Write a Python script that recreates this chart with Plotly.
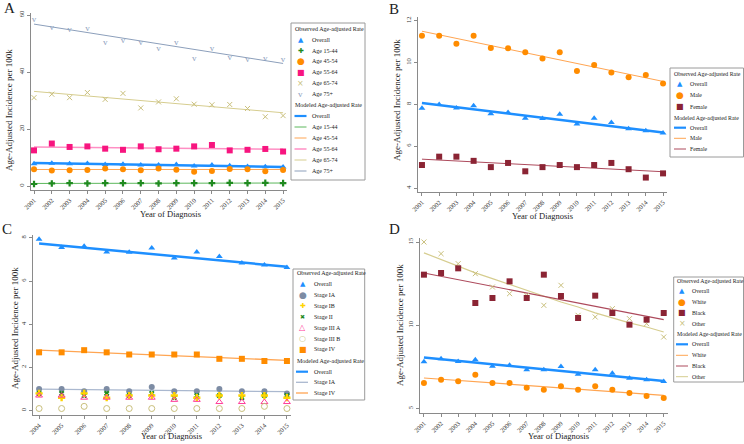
import plotly.graph_objects as go

# ---------------- data ----------------
years = [2001, 2002, 2003, 2004, 2005, 2006, 2007, 2008, 2009, 2010, 2011, 2012, 2013, 2014, 2015]
years_c = [2004, 2005, 2006, 2007, 2008, 2009, 2010, 2011, 2012, 2013, 2014, 2015]
model_years = [2001, 2015]
model_years_c = [2004, 2015]

overall = [7.82, 8.00, 7.83, 7.93, 7.55, 7.61, 7.34, 7.33, 7.53, 7.06, 7.34, 7.13, 6.83, 6.74, 6.63]
overall_model = [8.07, 6.66]

age_15_44 = [0.7, 0.9, 1.0, 0.9, 1.0, 1.0, 1.0, 0.9, 1.0, 1.0, 1.0, 1.1, 1.0, 1.1, 1.0]
age_45_54 = [5.9, 5.4, 5.5, 5.6, 6.1, 5.9, 5.5, 6.1, 5.7, 5.0, 5.3, 6.0, 5.9, 5.2, 5.6]
age_55_64 = [12.5, 14.9, 13.7, 13.9, 13.1, 12.7, 13.9, 12.9, 13.1, 13.9, 14.4, 12.5, 12.7, 13.0, 12.1]
age_65_74 = [31.0, 32.2, 31.0, 32.8, 30.4, 32.5, 27.4, 29.5, 30.6, 28.7, 28.5, 28.6, 27.2, 24.3, 24.7]
age_75p = [58.3, 55.7, 55.0, 55.3, 50.3, 51.0, 50.3, 48.0, 50.3, 44.8, 48.0, 45.0, 44.2, 44.8, 44.4]
age_15_44_model = [0.9, 1.05]
age_45_54_model = [5.8, 5.8]
age_55_64_model = [13.7, 12.9]
age_65_74_model = [33.2, 25.7]
age_75p_model = [56.8, 43.0]

male = [11.28, 11.28, 10.9, 11.28, 10.7, 10.68, 10.5, 10.2, 10.5, 9.6, 9.89, 9.52, 9.3, 9.41, 9.0]
female = [5.1, 5.5, 5.5, 5.3, 5.0, 5.2, 4.8, 5.0, 5.1, 5.0, 5.1, 5.2, 4.9, 4.5, 4.7]
male_model = [11.5, 9.1]
female_model = [5.38, 4.78]

overall_c = [7.93, 7.55, 7.61, 7.34, 7.33, 7.53, 7.06, 7.34, 7.13, 6.83, 6.74, 6.63]
overall_c_model = [7.74, 6.66]
stage_ia = [1.0, 1.0, 0.9, 1.0, 0.9, 1.1, 0.9, 0.9, 1.0, 0.9, 0.9, 0.8]
stage_ib = [0.8, 0.6, 0.8, 0.6, 0.7, 0.7, 0.7, 0.6, 0.7, 0.7, 0.7, 0.6]
stage_ii = [0.8, 0.8, 0.7, 0.8, 0.7, 0.8, 0.6, 0.7, 0.7, 0.6, 0.7, 0.7]
stage_iiia = [0.7, 0.7, 0.6, 0.6, 0.6, 0.6, 0.5, 0.5, 0.4, 0.4, 0.4, 0.4]
stage_iiib = [0.1, 0.1, 0.2, 0.1, 0.1, 0.1, 0.1, 0.1, 0.1, 0.1, 0.2, 0.1]
stage_iv = [2.7, 2.7, 2.8, 2.7, 2.6, 2.6, 2.6, 2.6, 2.4, 2.4, 2.3, 2.3]
stage_ia_model = [1.0, 0.88]
stage_iv_model = [2.8, 2.33]

white = [6.54, 6.74, 6.64, 7.04, 6.54, 6.54, 6.26, 6.14, 6.34, 6.14, 6.34, 6.14, 5.94, 5.76, 5.64]
black = [13.04, 13.14, 13.42, 11.34, 11.64, 12.64, 11.64, 13.04, 11.76, 10.44, 11.78, 10.74, 10.04, 10.34, 10.74]
other = [15.0, 14.3, 13.7, 13.1, 12.3, 11.9, 11.8, 11.2, 12.4, 10.6, 10.5, 11.0, 10.4, 10.1, 9.3]
white_model = [6.84, 5.8]
black_model = [13.14, 10.34]
other_model = [14.35, 13.95, 13.55, 13.15, 12.8, 12.45, 12.1, 11.75, 11.4, 11.1, 10.75, 10.45, 10.15, 9.9, 9.6]

# ---------------- style ----------------
W, H = 744, 444
SERIF = "Liberation Serif"
BLUE = "#1e8fff"
GREEN = "#1f8a1f"
GREEN_L = "#5cb85c"
ORANGE = "#ff8c00"
ORANGE_L = "#ffa552"
PINK = "#f7157f"
PINK_L = "#ff8fc4"
KHAKI = "#c9bf7c"
KHAKI_L = "#d6cd8f"
STEEL = "#8ea2c0"
STEEL_L = "#8c9fbb"
MAROON = "#8b2434"
MAROON_L = "#ad4a5c"
SLATE = "#7d8ca4"
SLATE_L = "#aab8cf"
GOLD = "#ffd400"
MAGENTA = "#ff3d9a"


def xp(px):
    return px / W


def yp(py):
    return 1 - py / H


fig = go.Figure()


def add_line(x, y, color, width, ax):
    fig.add_trace(go.Scatter(x=x, y=y, mode="lines", line=dict(color=color, width=width),
                             xaxis="x" + ax, yaxis="y" + ax, showlegend=False, hoverinfo="skip"))


def add_pts(x, y, color, symbol, size, ax, lw=0):
    fig.add_trace(go.Scatter(x=x, y=y, mode="markers",
                             marker=dict(color=color, symbol=symbol, size=size,
                                         line=dict(color=color, width=lw)),
                             xaxis="x" + ax, yaxis="y" + ax, showlegend=False))


def add_glyph_pts(x, y, color, glyph, size, ax):
    fig.add_trace(go.Scatter(x=x, y=y, mode="text", text=[glyph] * len(x),
                             textposition="middle center",
                             textfont=dict(family=SERIF, size=size, color=color),
                             xaxis="x" + ax, yaxis="y" + ax, showlegend=False))


# Panel A
add_line(model_years, age_75p_model, STEEL_L, 1, "")
add_line(model_years, age_65_74_model, KHAKI_L, 1, "")
add_line(model_years, age_55_64_model, PINK_L, 1.6, "")
add_line(model_years, overall_model, BLUE, 2.5, "")
add_line(model_years, age_45_54_model, ORANGE_L, 1, "")
add_line(model_years, age_15_44_model, GREEN_L, 1, "")
add_glyph_pts(years, age_75p, STEEL, "v", 9, "")
add_pts(years, age_65_74, KHAKI, "x-thin-open", 5, "", 1)
add_pts(years, age_55_64, PINK, "square", 6, "")
add_pts(years, overall, BLUE, "triangle-up", 6, "")
add_pts(years, age_45_54, ORANGE, "circle", 6, "")
add_pts(years, age_15_44, GREEN, "cross", 5.5, "")

# Panel B
add_line(model_years, male_model, ORANGE_L, 1, "2")
add_line(model_years, overall_model, BLUE, 2.5, "2")
add_line(model_years, female_model, MAROON_L, 1, "2")
add_pts(years, male, ORANGE, "circle", 6, "2")
add_pts(years, overall, BLUE, "triangle-up", 6, "2")
add_pts(years, female, MAROON, "square", 6, "2")

# Panel C
add_line(model_years_c, overall_c_model, BLUE, 2.5, "3")
add_line(model_years_c, stage_iv_model, ORANGE_L, 1.3, "3")
add_line(model_years_c, stage_ia_model, SLATE_L, 1.3, "3")
add_pts(years_c, overall_c, BLUE, "triangle-up", 6, "3")
add_pts(years_c, stage_iv, ORANGE, "square", 6, "3")
add_pts(years_c, stage_ia, SLATE, "circle", 6, "3")
add_pts(years_c, stage_ii, GREEN, "x", 5, "3")
add_pts(years_c, stage_ib, GOLD, "cross", 6, "3")
add_pts(years_c, stage_iiia, MAGENTA, "triangle-up-open", 6, "3", 1)
add_pts(years_c, stage_iiib, KHAKI, "circle-open", 6, "3", 1)

# Panel D
add_line(years, other_model, KHAKI_L, 1.2, "4")
add_line(model_years, black_model, MAROON_L, 1.2, "4")
add_line(model_years, overall_model, BLUE, 2.5, "4")
add_line(model_years, white_model, ORANGE_L, 1.2, "4")
add_pts(years, other, KHAKI, "x-thin-open", 5, "4", 1)
add_pts(years, black, MAROON, "square", 6, "4")
add_pts(years, overall, BLUE, "triangle-up", 6, "4")
add_pts(years, white, ORANGE, "circle", 6, "4")

# ---------------- axes ----------------
panels = {
    # name: (x0, x1, ytop, ybottom, xrange, yrange, yticks)
    "": (31, 287, 13, 190, [2000.83, 2015.22], [-1.4, 60.7], [0, 20, 40, 60]),
    "2": (418, 667, 17, 192, [2000.77, 2015.23], [3.81, 12.18], [4, 6, 8, 10, 12]),
    "3": (33, 291, 235, 415, [2003.73, 2015.18], [-0.2, 8.13], [0, 2, 4, 6, 8]),
    "4": (420, 668, 238, 413, [2000.77, 2015.25], [4.74, 15.24], [5, 10, 15]),
}

layout_axes = {}
for name, (x0, x1, yt, yb, xr, yr, yt_vals) in panels.items():
    common = dict(showline=True, linecolor="#8a8a8a", linewidth=1, ticks="outside",
                  ticklen=3, tickcolor="#8a8a8a", showgrid=False, zeroline=False,
                  tickfont=dict(family=SERIF, size=6.5, color="#333"), automargin=False)
    layout_axes["xaxis" + name] = dict(common, domain=[xp(x0), xp(x1)], range=xr,
                                       anchor="y" + name, tickmode="array",
                                       tickvals=(years_c if name == "3" else years),
                                       tickangle=-45)
    layout_axes["yaxis" + name] = dict(common, domain=[yp(yb), yp(yt)], range=yr,
                                       anchor="x" + name, tickmode="array",
                                       tickvals=yt_vals, tickangle=-90)

annotations = []
shapes = []


def text(px, py, s, size, anchor="center", angle=0, family=SERIF, color="#222"):
    annotations.append(dict(x=xp(px), y=yp(py), xref="paper", yref="paper", text=s,
                            showarrow=False, xanchor=anchor, yanchor="middle",
                            textangle=angle, borderpad=0,
                            font=dict(family=family, size=size, color=color)))


# panel letters
text(9, 8, "A", 15)
text(394, 9, "B", 15)
text(7, 229, "C", 15)
text(394, 229, "D", 15)

# axis titles
xt = "Year of Diagnosis"
yt_ = "Age-Adjusted Incidence per 100k"
text(170, 214, xt, 8.5)
text(9, 110, yt_, 9, angle=-90)
text(542, 216, xt, 8.5)
text(397, 100, yt_, 9, angle=-90)
text(171, 436, xt, 8.5)
text(15, 328, yt_, 9, angle=-90)
text(558, 436, xt, 8.5)
text(400, 325, yt_, 9, angle=-90)

GLYPH = "DejaVu Sans"


def legend(box, xt_, xm, xtext, lx0, lx1, fs, rows):
    bx0, by0, bx1, by1 = box
    shapes.append(dict(type="rect", xref="paper", yref="paper", x0=xp(bx0), x1=xp(bx1),
                       y0=yp(by1), y1=yp(by0), line=dict(color="#9a9a9a", width=1)))
    for r in rows:
        y, kind, label = r[0], r[1], r[2]
        if kind == "t":
            text(xt_, y, label, fs, anchor="left")
        elif kind == "m":
            glyph, color, gsize = r[3], r[4], r[5]
            fam = SERIF if glyph == "v" else GLYPH
            text(xm, y, glyph, gsize, family=fam, color=color)
            text(xtext, y, label, fs, anchor="left")
        else:
            color, lw = r[3], r[4]
            shapes.append(dict(type="line", xref="paper", yref="paper", x0=xp(lx0), x1=xp(lx1),
                               y0=yp(y), y1=yp(y), line=dict(color=color, width=lw)))
            text(xtext, y, label, fs, anchor="left")


OBS = "Observed Age-adjusted Rate"
MOD = "Modeled Age-adjusted Rate"

legend((291, 23, 365, 180), 294, 300.5, 310.5, 294.5, 306.5, 6, [
    (29, "t", OBS),
    (39.5, "m", "Overall", "▲", BLUE, 7),
    (50.5, "m", "Age 15-44", "✚", GREEN, 7),
    (61.5, "m", "Age 45-54", "●", ORANGE, 9),
    (72.5, "m", "Age 55-64", "■", PINK, 8),
    (83.3, "m", "Age 65-74", "×", KHAKI, 8),
    (94, "m", "Age 75+", "v", STEEL, 9),
    (105, "t", MOD),
    (116, "l", "Overall", BLUE, 2.2),
    (127, "l", "Age 15-44", GREEN_L, 1),
    (138, "l", "Age 45-54", ORANGE_L, 1),
    (149, "l", "Age 55-64", PINK_L, 1.5),
    (160, "l", "Age 65-74", KHAKI_L, 1),
    (171, "l", "Age 75+", STEEL_L, 1),
])

legend((670, 68, 743.5, 157), 672.5, 680, 689, 674, 686, 5.8, [
    (74, "t", OBS),
    (84.3, "m", "Overall", "▲", BLUE, 7),
    (95.5, "m", "Male", "●", ORANGE, 9),
    (106.5, "m", "Female", "■", MAROON, 8),
    (117.5, "t", MOD),
    (127.7, "l", "Overall", BLUE, 2.2),
    (138.3, "l", "Male", ORANGE_L, 1),
    (149, "l", "Female", MAROON_L, 1),
])

legend((293, 269, 364.7, 400), 296, 302.7, 312.7, 296, 308, 6, [
    (273.3, "t", OBS),
    (283.5, "m", "Overall", "▲", BLUE, 7),
    (294.5, "m", "Stage IA", "●", SLATE, 9),
    (305.7, "m", "Stage IB", "✚", GOLD, 7),
    (316.7, "m", "Stage II", "✖", GREEN, 6),
    (327.5, "m", "Stage III A", "△", MAGENTA, 8),
    (338.5, "m", "Stage III B", "○", KHAKI, 8),
    (349.3, "m", "Stage IV", "■", ORANGE, 8),
    (361, "t", MOD),
    (371.7, "l", "Overall", BLUE, 2.2),
    (382.3, "l", "Stage IA", SLATE_L, 1.3),
    (393, "l", "Stage IV", ORANGE_L, 1.3),
])

legend((673.7, 277, 743.5, 382), 675.5, 682, 691.3, 676, 688, 5.8, [
    (281, "t", OBS),
    (291.3, "m", "Overall", "▲", BLUE, 7),
    (302, "m", "White", "●", ORANGE, 9),
    (312.7, "m", "Black", "■", MAROON, 8),
    (323.5, "m", "Other", "×", KHAKI, 8),
    (334, "t", MOD),
    (344.3, "l", "Overall", BLUE, 2.2),
    (355.3, "l", "White", ORANGE_L, 1),
    (366, "l", "Black", MAROON_L, 1),
    (376.7, "l", "Other", KHAKI_L, 1),
])

fig.update_layout(
    width=W, height=H, margin=dict(l=0, r=0, t=0, b=0),
    paper_bgcolor="white", plot_bgcolor="white",
    showlegend=False, annotations=annotations, shapes=shapes,
    font=dict(family=SERIF), hovermode=False,
    **layout_axes,
)

fig.write_html("out.html", config={"displayModeBar": False, "staticPlot": True},
               post_script="document.body.style.margin='0';document.body.style.overflow='hidden';")
